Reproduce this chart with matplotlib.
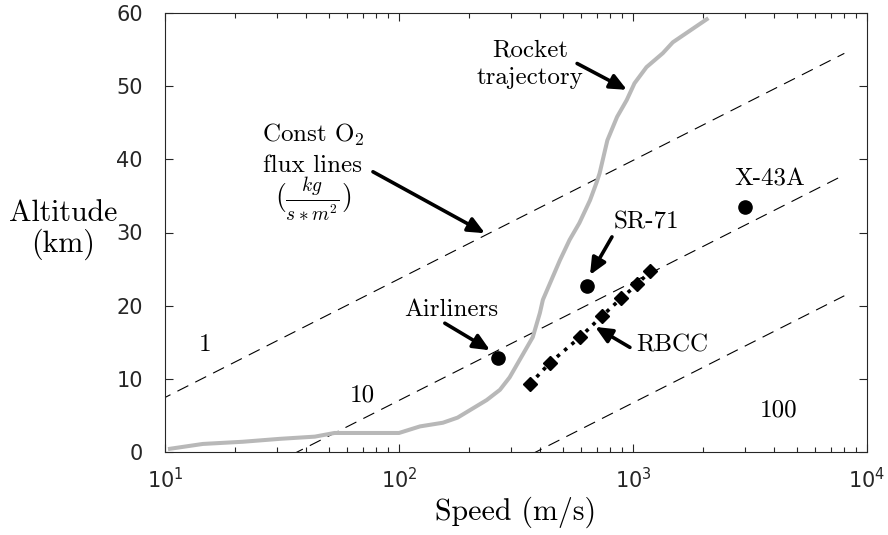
import numpy as np
import matplotlib
matplotlib.use("Agg")
import matplotlib.pyplot as plt

plt.rcParams["mathtext.fontset"] = "cm"
plt.rcParams["font.family"] = ["DejaVu Sans"]

# Rocket trajectory (speed m/s, altitude km)
rocket_speed = [10.3, 14.5, 21.5, 31, 43.7, 53, 100, 123, 154, 178, 237, 270,
                297, 373, 400, 412, 487, 536, 590, 655, 700, 720, 777, 855,
                940, 1015, 1142, 1340, 1480, 2100]
rocket_alt = [0.4, 1.1, 1.4, 1.8, 2.1, 2.6, 2.6, 3.5, 4.0, 4.7, 7.1, 8.5,
              10.2, 15.7, 19.0, 20.8, 26.2, 29.0, 31.3, 34.4, 36.9, 38.1, 42.6, 45.8,
              48.1, 50.4, 52.6, 54.5, 56.0, 59.3]

# Vehicles
airliner = (265, 12.8)
sr71 = (636, 22.7)
x43a = (3013, 33.5)

# RBCC operating points
rbcc_speed = [363, 442, 594, 738, 890, 1040, 1183]
rbcc_alt = [9.3, 12.2, 15.7, 18.6, 21.0, 22.9, 24.7]

# Constant O2 flux lines: altitude = slope * (log10(v) - offset)
flux_labels = ["1", "10", "100"]
flux_offsets = [0.54, 1.565, 2.585]
flux_slope = 16.2
flux_vmax = 8000

CM = "cmr10"
TXT = 18
LBL = 21.5

fig = plt.figure(figsize=(8.88, 5.35), dpi=100)
ax = fig.add_axes([165 / 888, 83 / 535, 702 / 888, 439 / 535])

v = np.logspace(0, np.log10(flux_vmax), 200)
for off in flux_offsets:
    ax.plot(v, flux_slope * (np.log10(v) - off), color="k", lw=0.8,
            dashes=(11, 7))

ax.plot(rocket_speed, rocket_alt, color=(0.72, 0.72, 0.72), lw=2.9,
        solid_capstyle="butt", zorder=3)

ax.plot(rbcc_speed, rbcc_alt, color="k", lw=2.6, ls=":", marker="D", ms=7.5,
        zorder=4)
for pt in (airliner, sr71, x43a):
    ax.plot(*pt, "o", color="k", ms=9.5, zorder=4)

ax.set_xscale("log")
ax.set_xlim(10, 1e4)
ax.set_ylim(0, 60)
ax.set_yticks(range(0, 61, 10))
ax.tick_params(which="both", direction="in", top=True, right=True,
               labelsize=15, colors="#262626")
ax.tick_params(which="major", length=6, width=0.8)
ax.tick_params(which="minor", length=3.5, width=0.8)
ax.tick_params(axis="x", pad=11)
ax.tick_params(axis="y", pad=16)
for s in ax.spines.values():
    s.set_color("#262626")
    s.set_linewidth(0.8)

ax.set_xlabel("Speed (m/s)", fontfamily=CM, fontsize=LBL, labelpad=3)
fig.text(63 / 888, 1 - 230 / 535, "Altitude\n(km)", fontfamily=CM,
         fontsize=LBL, ha="center", va="center", multialignment="center",
         linespacing=1.05)

arrow = dict(arrowstyle="-|>,head_length=1.0,head_width=0.45", lw=2.6,
             color="k", shrinkA=0, shrinkB=0)

def pointer(tail, head):
    ax.annotate("", xy=head, xytext=tail, arrowprops=arrow, zorder=5)

# Annotations
ax.text(363, 53.0, "Rocket\ntrajectory", fontfamily=CM, fontsize=TXT,
        ha="center", va="center", linespacing=1.3)
pointer((577, 53.1), (942, 49.5))

ax.text(42.9, 43.4, r"Const O$_2$", fontfamily=CM, fontsize=TXT,
        ha="center", va="center")
ax.text(42.9, 39.1, "flux lines", fontfamily=CM, fontsize=TXT,
        ha="center", va="center")
ax.text(42.9, 34.4, r"$(\frac{kg}{s*m^2})$", fontsize=20,
        ha="center", va="center")
pointer((77.4, 38.3), (233, 29.9))

ax.text(1137, 31.4, "SR-71", fontfamily=CM, fontsize=TXT, ha="center",
        va="center")
pointer((813, 29.4), (655, 24.2))

ax.text(167, 19.4, "Airliners", fontfamily=CM, fontsize=TXT, ha="center",
        va="center")
pointer((157, 17.6), (245, 13.9))

ax.text(1469, 14.5, "RBCC", fontfamily=CM, fontsize=TXT, ha="center",
        va="center")
pointer((970, 14.3), (689, 17.1))

ax.text(3846, 37.2, "X-43A", fontfamily=CM, fontsize=TXT, ha="center",
        va="center")

for lab, pos in zip(flux_labels, [(14.8, 14.6), (69.5, 7.7), (4170, 5.7)]):
    ax.text(*pos, lab, fontfamily=CM, fontsize=TXT, ha="center", va="center")

fig.savefig("out.png", dpi=100)
